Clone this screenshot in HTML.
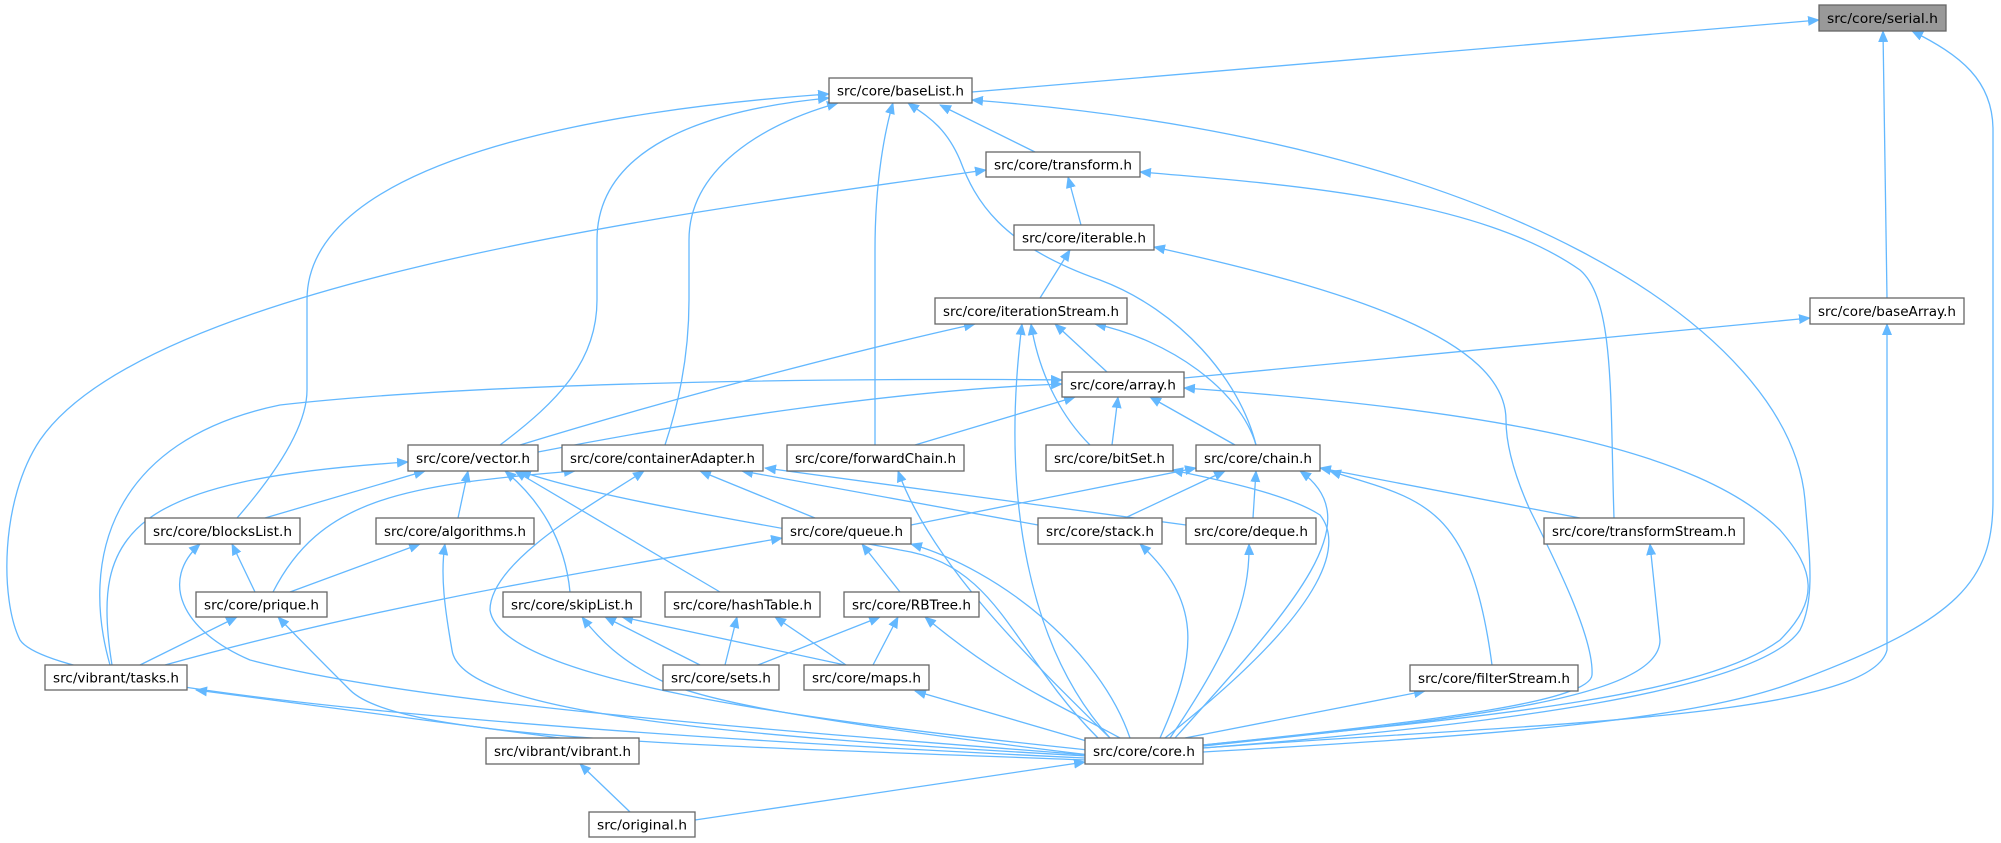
<!DOCTYPE html>
<html><head><meta charset="utf-8"><style>
html,body{margin:0;padding:0;background:#fff;}
svg{display:block;}
text{font-family:"DejaVu Sans","Liberation Sans",sans-serif;font-size:13px;fill:#000;}
.e{fill:none;stroke:#63b8ff;stroke-width:1.3;}
.n{fill:#fff;stroke:#666;stroke-width:1.3;}
</style></head><body>
<svg width="2001" height="843" viewBox="0 0 2001 843" xmlns="http://www.w3.org/2000/svg">
<defs><marker id="a" markerWidth="12" markerHeight="10" refX="11" refY="5" orient="auto" markerUnits="userSpaceOnUse"><path d="M0,0 L12,5 L0,10 z" fill="#63b8ff"/></marker></defs>
<g class="e" marker-end="url(#a)">
<path d="M972 92 L1819 20"/>
<path d="M1887 298 L1883 31"/>
<path d="M1203 752 C1500 735 1700 720 1800 680 C1960 620 1993 580 1993 500 L1993 130 C1993 80 1960 55 1912 31"/>
<path d="M1035 152 L940 105"/>
<path d="M500 445 C560 400 597 360 597 300 L597 240 C597 150 700 110 829 98"/>
<path d="M665 445 C680 400 689 350 689 300 L689 240 C689 170 760 125 838 103"/>
<path d="M875 445 L875 250 C875 180 885 130 893 103"/>
<path d="M1256 445 C1240 380 1180 310 1100 280 C1000 245 975 200 960 160 C945 125 925 115 908 103"/>
<path d="M237 518 C270 480 307 430 307 390 L307 300 C307 160 600 110 829 94"/>
<path d="M1203 748 C1500 725 1760 690 1800 630 C1815 600 1810 560 1805 500 C1790 330 1500 140 972 100"/>
<path d="M1081 225 L1068 177"/>
<path d="M1085 758 C700 740 60 700 20 640 C0 600 0 500 40 440 C150 280 700 210 986 170"/>
<path d="M1614 518 C1610 400 1615 300 1580 270 C1480 200 1300 185 1140 172"/>
<path d="M1040 298 L1070 250"/>
<path d="M1203 745 C1450 720 1590 700 1592 675 C1594 640 1560 570 1530 510 C1512 470 1506 440 1506 420 C1506 340 1350 290 1154 247"/>
<path d="M520 445 C700 390 880 345 975 324"/>
<path d="M1107 372 L1055 324"/>
<path d="M1090 445 C1065 420 1040 380 1031 324"/>
<path d="M1256 445 C1240 390 1170 340 1095 324"/>
<path d="M1110 738 C1030 650 1000 500 1022 324"/>
<path d="M1184 378 L1810 318"/>
<path d="M1203 748 C1500 725 1870 720 1887 650 L1887 324"/>
<path d="M538 452 C700 420 900 390 1062 384"/>
<path d="M915 445 L1075 397"/>
<path d="M1112 445 L1118 397"/>
<path d="M1235 445 L1150 397"/>
<path d="M110 665 C80 560 110 440 280 405 C500 380 900 378 1062 380"/>
<path d="M1203 745 C1450 720 1700 700 1780 640 C1820 600 1815 570 1780 530 C1700 450 1500 410 1184 388"/>
<path d="M265 518 L425 471"/>
<path d="M458 518 L468 471"/>
<path d="M570 592 C565 540 540 500 505 471"/>
<path d="M720 592 L515 471"/>
<path d="M112 665 C90 530 130 480 408 462"/>
<path d="M1098 738 C1010 650 1000 565 900 550 C800 530 600 500 520 471"/>
<path d="M273 592 C320 500 400 485 575 471"/>
<path d="M815 518 L700 471"/>
<path d="M1038 525 L742 471"/>
<path d="M1186 525 L765 468"/>
<path d="M1088 750 C800 720 500 680 490 610 C490 560 600 500 644 471"/>
<path d="M1110 738 C1020 650 930 560 898 471"/>
<path d="M1165 738 C1340 600 1340 540 1320 515 C1290 495 1220 480 1172 470"/>
<path d="M911 525 L1196 468"/>
<path d="M1125 518 L1225 471"/>
<path d="M1253 518 L1256 471"/>
<path d="M1580 518 L1320 468"/>
<path d="M1492 665 C1470 500 1420 500 1330 471"/>
<path d="M1175 738 C1300 600 1370 520 1300 471"/>
<path d="M255 592 L232 544"/>
<path d="M1088 755 C700 725 400 700 250 660 C180 630 160 580 200 544"/>
<path d="M290 592 L420 544"/>
<path d="M1088 756 C700 735 460 710 452 650 C445 610 440 575 445 544"/>
<path d="M900 592 L862 544"/>
<path d="M165 665 C400 600 600 570 782 538"/>
<path d="M1130 738 C1100 650 1000 570 911 544"/>
<path d="M1160 738 C1200 650 1200 600 1140 544"/>
<path d="M1170 738 C1230 650 1250 600 1249 544"/>
<path d="M1203 746 C1450 720 1660 700 1660 640 L1650 544"/>
<path d="M140 665 L237 617"/>
<path d="M1086 760 C700 745 400 740 350 690 C320 660 300 640 278 617"/>
<path d="M700 665 L605 617"/>
<path d="M845 665 L622 617"/>
<path d="M1090 755 C800 720 700 700 660 680 C620 660 600 640 582 617"/>
<path d="M725 665 L737 617"/>
<path d="M846 665 L775 617"/>
<path d="M758 665 L880 617"/>
<path d="M873 665 L898 617"/>
<path d="M1120 738 C1050 700 1000 680 925 617"/>
<path d="M560 738 L196 690"/>
<path d="M1090 742 L915 691"/>
<path d="M1185 738 L1425 691"/>
<path d="M695 820 L1085 762"/>
<path d="M630 812 L580 764"/>
</g>
<g>
<rect class="n" x="1819" y="5" width="127" height="26" style="fill:#999"/><text x="1882.5" y="23" text-anchor="middle" textLength="111" lengthAdjust="spacingAndGlyphs">src/core/serial.h</text>
<rect class="n" x="829" y="78" width="143" height="25"/><text x="900.5" y="95.5" text-anchor="middle" textLength="127" lengthAdjust="spacingAndGlyphs">src/core/baseList.h</text>
<rect class="n" x="986" y="152" width="154" height="25"/><text x="1063" y="169.5" text-anchor="middle" textLength="138" lengthAdjust="spacingAndGlyphs">src/core/transform.h</text>
<rect class="n" x="1014" y="225" width="140" height="25"/><text x="1084" y="242.5" text-anchor="middle" textLength="124" lengthAdjust="spacingAndGlyphs">src/core/iterable.h</text>
<rect class="n" x="935" y="298" width="192" height="26"/><text x="1031" y="316" text-anchor="middle" textLength="176" lengthAdjust="spacingAndGlyphs">src/core/iterationStream.h</text>
<rect class="n" x="1810" y="298" width="154" height="26"/><text x="1887" y="316" text-anchor="middle" textLength="138" lengthAdjust="spacingAndGlyphs">src/core/baseArray.h</text>
<rect class="n" x="1062" y="372" width="122" height="25"/><text x="1123" y="389.5" text-anchor="middle" textLength="106" lengthAdjust="spacingAndGlyphs">src/core/array.h</text>
<rect class="n" x="408" y="445" width="130" height="26"/><text x="473" y="463" text-anchor="middle" textLength="114" lengthAdjust="spacingAndGlyphs">src/core/vector.h</text>
<rect class="n" x="562" y="445" width="201" height="26"/><text x="662.5" y="463" text-anchor="middle" textLength="185" lengthAdjust="spacingAndGlyphs">src/core/containerAdapter.h</text>
<rect class="n" x="787" y="445" width="177" height="26"/><text x="875.5" y="463" text-anchor="middle" textLength="161" lengthAdjust="spacingAndGlyphs">src/core/forwardChain.h</text>
<rect class="n" x="1046" y="445" width="127" height="26"/><text x="1109.5" y="463" text-anchor="middle" textLength="111" lengthAdjust="spacingAndGlyphs">src/core/bitSet.h</text>
<rect class="n" x="1196" y="445" width="124" height="26"/><text x="1258" y="463" text-anchor="middle" textLength="108" lengthAdjust="spacingAndGlyphs">src/core/chain.h</text>
<rect class="n" x="145" y="518" width="155" height="26"/><text x="222.5" y="536" text-anchor="middle" textLength="139" lengthAdjust="spacingAndGlyphs">src/core/blocksList.h</text>
<rect class="n" x="376" y="518" width="158" height="26"/><text x="455" y="536" text-anchor="middle" textLength="142" lengthAdjust="spacingAndGlyphs">src/core/algorithms.h</text>
<rect class="n" x="782" y="518" width="129" height="26"/><text x="846.5" y="536" text-anchor="middle" textLength="113" lengthAdjust="spacingAndGlyphs">src/core/queue.h</text>
<rect class="n" x="1038" y="518" width="124" height="26"/><text x="1100" y="536" text-anchor="middle" textLength="108" lengthAdjust="spacingAndGlyphs">src/core/stack.h</text>
<rect class="n" x="1186" y="518" width="130" height="26"/><text x="1251" y="536" text-anchor="middle" textLength="114" lengthAdjust="spacingAndGlyphs">src/core/deque.h</text>
<rect class="n" x="1544" y="518" width="200" height="26"/><text x="1644" y="536" text-anchor="middle" textLength="184" lengthAdjust="spacingAndGlyphs">src/core/transformStream.h</text>
<rect class="n" x="196" y="592" width="131" height="25"/><text x="261.5" y="609.5" text-anchor="middle" textLength="115" lengthAdjust="spacingAndGlyphs">src/core/prique.h</text>
<rect class="n" x="503" y="592" width="138" height="25"/><text x="572" y="609.5" text-anchor="middle" textLength="122" lengthAdjust="spacingAndGlyphs">src/core/skipList.h</text>
<rect class="n" x="665" y="592" width="155" height="25"/><text x="742.5" y="609.5" text-anchor="middle" textLength="139" lengthAdjust="spacingAndGlyphs">src/core/hashTable.h</text>
<rect class="n" x="844" y="592" width="135" height="25"/><text x="911.5" y="609.5" text-anchor="middle" textLength="119" lengthAdjust="spacingAndGlyphs">src/core/RBTree.h</text>
<rect class="n" x="1410" y="665" width="168" height="26"/><text x="1494" y="683" text-anchor="middle" textLength="152" lengthAdjust="spacingAndGlyphs">src/core/filterStream.h</text>
<rect class="n" x="45" y="665" width="142" height="25"/><text x="116" y="682.5" text-anchor="middle" textLength="126" lengthAdjust="spacingAndGlyphs">src/vibrant/tasks.h</text>
<rect class="n" x="663" y="665" width="116" height="25"/><text x="721" y="682.5" text-anchor="middle" textLength="100" lengthAdjust="spacingAndGlyphs">src/core/sets.h</text>
<rect class="n" x="804" y="665" width="125" height="25"/><text x="866.5" y="682.5" text-anchor="middle" textLength="109" lengthAdjust="spacingAndGlyphs">src/core/maps.h</text>
<rect class="n" x="486" y="738" width="153" height="26"/><text x="562.5" y="756" text-anchor="middle" textLength="137" lengthAdjust="spacingAndGlyphs">src/vibrant/vibrant.h</text>
<rect class="n" x="1085" y="738" width="118" height="26"/><text x="1144" y="756" text-anchor="middle" textLength="102" lengthAdjust="spacingAndGlyphs">src/core/core.h</text>
<rect class="n" x="589" y="812" width="106" height="25"/><text x="642" y="829.5" text-anchor="middle" textLength="90" lengthAdjust="spacingAndGlyphs">src/original.h</text>
</g>
</svg>
</body></html>
